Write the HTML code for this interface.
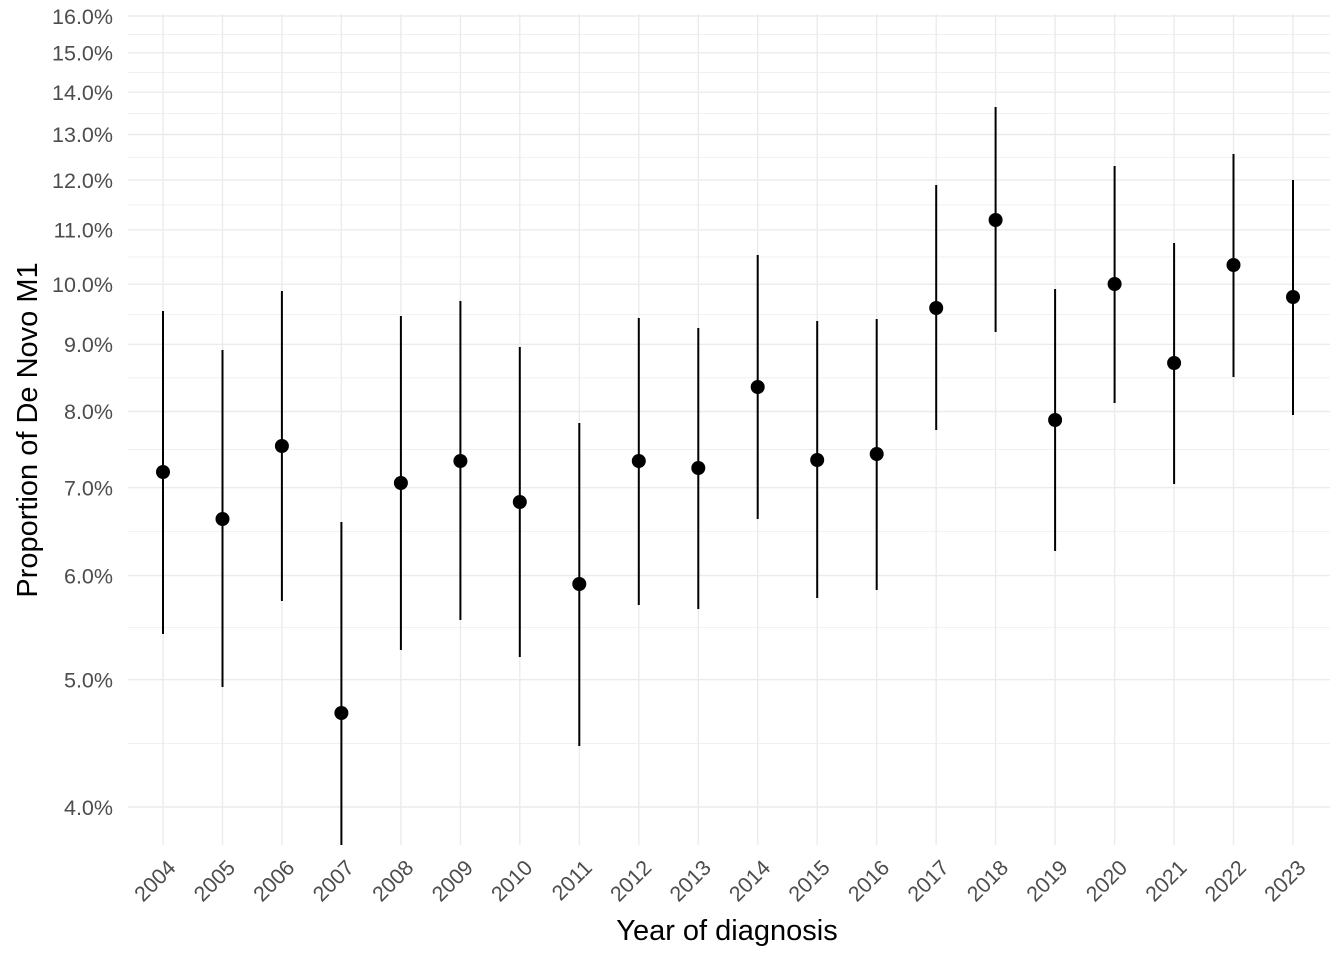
<!DOCTYPE html>
<html><head><meta charset="utf-8"><style>body{margin:0;background:#fff}svg{display:block}text{font-family:"Liberation Sans",Arial,sans-serif}</style></head><body>
<svg width="1344" height="960" viewBox="0 0 1344 960" xmlns="http://www.w3.org/2000/svg">
<g stroke="#ebebeb" stroke-width="0.7">
<line x1="128" x2="1330" y1="743.4" y2="743.4"/><line x1="128" x2="1330" y1="627.7" y2="627.7"/><line x1="128" x2="1330" y1="531.7" y2="531.7"/><line x1="128" x2="1330" y1="449.6" y2="449.6"/><line x1="128" x2="1330" y1="377.9" y2="377.9"/><line x1="128" x2="1330" y1="314.3" y2="314.3"/><line x1="128" x2="1330" y1="257" y2="257"/><line x1="128" x2="1330" y1="205" y2="205"/><line x1="128" x2="1330" y1="157.3" y2="157.3"/><line x1="128" x2="1330" y1="113.4" y2="113.4"/><line x1="128" x2="1330" y1="72.5" y2="72.5"/><line x1="128" x2="1330" y1="34.4" y2="34.4"/>
</g>
<g stroke="#ebebeb" stroke-width="1.4">
<line x1="128" x2="1330" y1="807" y2="807"/><line x1="128" x2="1330" y1="679.7" y2="679.7"/><line x1="128" x2="1330" y1="575.6" y2="575.6"/><line x1="128" x2="1330" y1="487.7" y2="487.7"/><line x1="128" x2="1330" y1="411.5" y2="411.5"/><line x1="128" x2="1330" y1="344.3" y2="344.3"/><line x1="128" x2="1330" y1="284.2" y2="284.2"/><line x1="128" x2="1330" y1="229.8" y2="229.8"/><line x1="128" x2="1330" y1="180.1" y2="180.1"/><line x1="128" x2="1330" y1="134.5" y2="134.5"/><line x1="128" x2="1330" y1="92.2" y2="92.2"/><line x1="128" x2="1330" y1="52.8" y2="52.8"/><line x1="128" x2="1330" y1="16" y2="16"/>
<line x1="163" x2="163" y1="14" y2="845"/><line x1="222.5" x2="222.5" y1="14" y2="845"/><line x1="281.9" x2="281.9" y1="14" y2="845"/><line x1="341.4" x2="341.4" y1="14" y2="845"/><line x1="400.9" x2="400.9" y1="14" y2="845"/><line x1="460.4" x2="460.4" y1="14" y2="845"/><line x1="519.8" x2="519.8" y1="14" y2="845"/><line x1="579.3" x2="579.3" y1="14" y2="845"/><line x1="638.8" x2="638.8" y1="14" y2="845"/><line x1="698.3" x2="698.3" y1="14" y2="845"/><line x1="757.7" x2="757.7" y1="14" y2="845"/><line x1="817.2" x2="817.2" y1="14" y2="845"/><line x1="876.7" x2="876.7" y1="14" y2="845"/><line x1="936.2" x2="936.2" y1="14" y2="845"/><line x1="995.6" x2="995.6" y1="14" y2="845"/><line x1="1055.1" x2="1055.1" y1="14" y2="845"/><line x1="1114.6" x2="1114.6" y1="14" y2="845"/><line x1="1174.1" x2="1174.1" y1="14" y2="845"/><line x1="1233.5" x2="1233.5" y1="14" y2="845"/><line x1="1293" x2="1293" y1="14" y2="845"/>
</g>
<g stroke="#000" stroke-width="2">
<line x1="163" x2="163" y1="634" y2="311"/><line x1="222.5" x2="222.5" y1="687" y2="350"/><line x1="281.9" x2="281.9" y1="601" y2="291"/><line x1="341.4" x2="341.4" y1="845" y2="522"/><line x1="400.9" x2="400.9" y1="650" y2="316"/><line x1="460.4" x2="460.4" y1="620" y2="301"/><line x1="519.8" x2="519.8" y1="657" y2="347"/><line x1="579.3" x2="579.3" y1="746" y2="423"/><line x1="638.8" x2="638.8" y1="605" y2="318"/><line x1="698.3" x2="698.3" y1="609" y2="328"/><line x1="757.7" x2="757.7" y1="519" y2="255"/><line x1="817.2" x2="817.2" y1="598" y2="321"/><line x1="876.7" x2="876.7" y1="590" y2="319"/><line x1="936.2" x2="936.2" y1="430" y2="185"/><line x1="995.6" x2="995.6" y1="332" y2="107"/><line x1="1055.1" x2="1055.1" y1="551" y2="289"/><line x1="1114.6" x2="1114.6" y1="403" y2="166"/><line x1="1174.1" x2="1174.1" y1="484" y2="243"/><line x1="1233.5" x2="1233.5" y1="377" y2="154"/><line x1="1293" x2="1293" y1="415" y2="180"/>
</g>
<g fill="#000">
<circle cx="163" cy="472" r="7"/><circle cx="222.5" cy="519" r="7"/><circle cx="281.9" cy="446" r="7"/><circle cx="341.4" cy="713" r="7"/><circle cx="400.9" cy="483" r="7"/><circle cx="460.4" cy="461" r="7"/><circle cx="519.8" cy="502" r="7"/><circle cx="579.3" cy="584" r="7"/><circle cx="638.8" cy="461" r="7"/><circle cx="698.3" cy="468" r="7"/><circle cx="757.7" cy="387" r="7"/><circle cx="817.2" cy="460" r="7"/><circle cx="876.7" cy="454" r="7"/><circle cx="936.2" cy="308" r="7"/><circle cx="995.6" cy="220" r="7"/><circle cx="1055.1" cy="420" r="7"/><circle cx="1114.6" cy="284" r="7"/><circle cx="1174.1" cy="363" r="7"/><circle cx="1233.5" cy="265" r="7"/><circle cx="1293" cy="297" r="7"/>
</g>
<g fill="#4d4d4d" font-size="21.5" text-anchor="end">
<text x="113" y="815">4.0%</text><text x="113" y="687.5">5.0%</text><text x="113" y="583.5">6.0%</text><text x="113" y="495.5">7.0%</text><text x="113" y="419">8.0%</text><text x="113" y="352">9.0%</text><text x="113" y="292">10.0%</text><text x="113" y="237.5">11.0%</text><text x="113" y="188">12.0%</text><text x="113" y="142">13.0%</text><text x="113" y="100">14.0%</text><text x="113" y="60.5">15.0%</text><text x="113" y="24">16.0%</text>
</g>
<g fill="#4d4d4d" font-size="21.5" text-anchor="end">
<text transform="translate(177,869) rotate(-45)">2004</text><text transform="translate(236.5,869) rotate(-45)">2005</text><text transform="translate(295.9,869) rotate(-45)">2006</text><text transform="translate(355.4,869) rotate(-45)">2007</text><text transform="translate(414.9,869) rotate(-45)">2008</text><text transform="translate(474.4,869) rotate(-45)">2009</text><text transform="translate(533.8,869) rotate(-45)">2010</text><text transform="translate(593.3,869) rotate(-45)">2011</text><text transform="translate(652.8,869) rotate(-45)">2012</text><text transform="translate(712.3,869) rotate(-45)">2013</text><text transform="translate(771.7,869) rotate(-45)">2014</text><text transform="translate(831.2,869) rotate(-45)">2015</text><text transform="translate(890.7,869) rotate(-45)">2016</text><text transform="translate(950.2,869) rotate(-45)">2017</text><text transform="translate(1009.6,869) rotate(-45)">2018</text><text transform="translate(1069.1,869) rotate(-45)">2019</text><text transform="translate(1128.6,869) rotate(-45)">2020</text><text transform="translate(1188.1,869) rotate(-45)">2021</text><text transform="translate(1247.5,869) rotate(-45)">2022</text><text transform="translate(1307,869) rotate(-45)">2023</text>
</g>
<text x="727" y="940" font-size="29" text-anchor="middle" fill="#000">Year of diagnosis</text>
<text transform="translate(37,430) rotate(-90)" font-size="29" text-anchor="middle" fill="#000">Proportion of De Novo M1</text>
</svg></body></html>
